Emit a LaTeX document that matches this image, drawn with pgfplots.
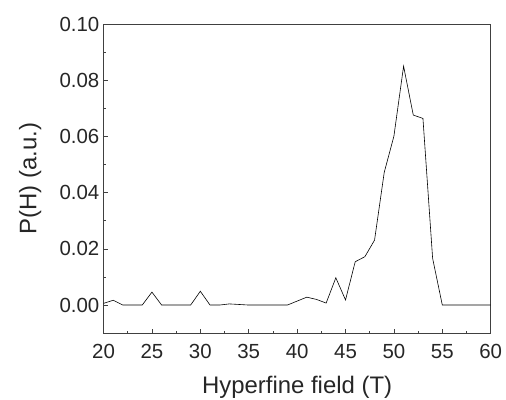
\documentclass[border=0pt]{standalone}
\usepackage{pgfplots}
\pgfplotsset{compat=1.18}
\usepackage{fontspec}
\setmainfont{Liberation Sans}
\begin{document}
\begin{tikzpicture}
\begin{axis}[
  scale only axis, width=387bp, height=309bp,
  xmin=20, xmax=60, ymin=-0.01, ymax=0.10,
  xtick={20,25,...,60}, ytick={0,0.02,...,0.10},
  minor x tick num=1, minor y tick num=1,
  xtick pos=bottom, ytick pos=left,
  tick align=inside,
  major tick length=4bp, minor tick length=2.5bp,
  axis line style={black!75, line width=0.6pt},
  tick style={black!75, line width=0.6pt},
  yticklabel style={/pgf/number format/fixed, /pgf/number format/fixed zerofill, /pgf/number format/precision=2, inner sep=1pt, xshift=-3bp},
  /pgf/number format/assume math mode=true,
  scaled y ticks=false,
  tick label style={font=\fontsize{20.5}{24}\selectfont, black!85},
  xticklabel style={inner sep=1pt, yshift=-10bp},
  label style={font=\fontsize{24}{28}\selectfont, black!85},
  xlabel={Hyperfine field (T)},
  ylabel={P(H) (a.u.)},
  xlabel style={inner sep=0pt, yshift=-16bp},
  ylabel style={inner sep=0pt, yshift=17bp},
]
\addplot[black, line width=0.6pt, mark=none] coordinates {
(20,0.0006) (21,0.0017) (22,0) (23,0) (24,0) (25,0.0046) (26,0) (27,0) (28,0) (29,0)
(30,0.0049) (31,0) (32,0) (33,0.0004) (34,0.0002) (35,0) (36,0) (37,0) (38,0) (39,0)
(40,0.0014) (41,0.0028) (42,0.0020) (43,0.0007) (44,0.0097) (45,0.0018) (46,0.0154)
(47,0.0172) (48,0.0231) (49,0.0472) (50,0.0601) (51,0.0850) (52,0.0676) (53,0.0664)
(54,0.0166) (55,0) (56,0) (57,0) (58,0) (59,0) (60,0)
};
\end{axis}
\pgfresetboundingbox
\path ([shift={(-103.5bp,-66bp)}]current axis.south west) rectangle ([shift={(15.3bp,24bp)}]current axis.north east);
\end{tikzpicture}
\end{document}
